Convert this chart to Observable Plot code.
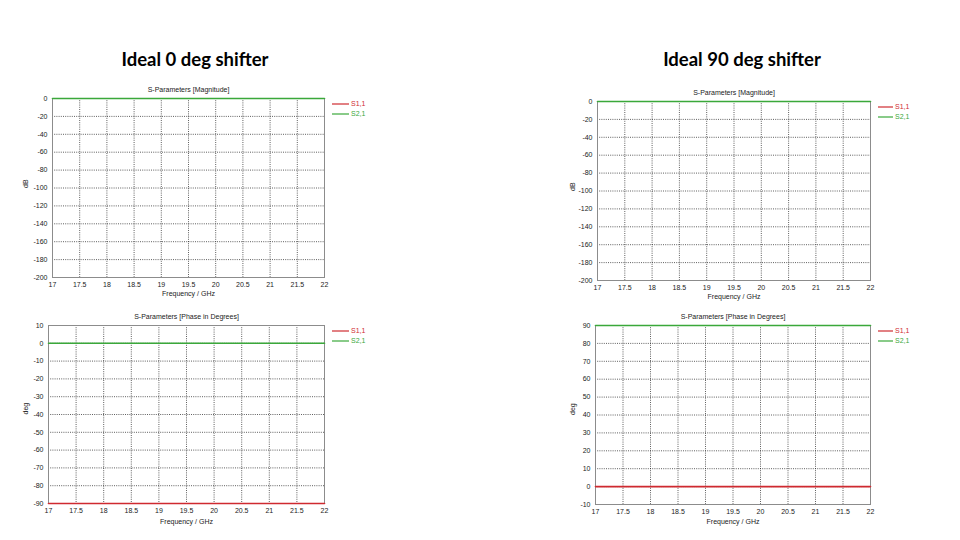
<!DOCTYPE html>
<html>
<head>
<meta charset="utf-8">
<script src="https://cdn.jsdelivr.net/npm/d3@7"></script>
<script src="https://cdn.jsdelivr.net/npm/@observablehq/plot@0.6"></script>
<style>
  html, body { margin: 0; padding: 0; background: #fff; }
  #page { position: relative; width: 960px; height: 540px; overflow: hidden; font-family: "Liberation Sans", Arial, sans-serif; }
  .main-title { position: absolute; font-family: Lato, "Open Sans", sans-serif; font-weight: bold; font-size: 18.5px; color: #000; transform: translateX(-50%); white-space: nowrap; }
  .leg { position: absolute; font-size: 7px; line-height: 8px; white-space: nowrap; display: flex; align-items: center; }
  .leg svg { margin-right: 2px; }
  #page > svg { position: absolute; left: 0; top: 0; }
</style>
</head>
<body>
<div id="page"></div>
<script>
// ---- data ----
const freqTicks = [17, 17.5, 18, 18.5, 19, 19.5, 20, 20.5, 21, 21.5, 22];
const magTicks = [0, -20, -40, -60, -80, -100, -120, -140, -160, -180, -200];
const phase0Ticks = [10, 0, -10, -20, -30, -40, -50, -60, -70, -80, -90];
const phase90Ticks = [90, 80, 70, 60, 50, 40, 30, 20, 10, 0, -10];

const freq = [17, 22];
const mag0_S21 = [0, 0];
const phase0_S11 = [-90, -90];
const phase0_S21 = [0, 0];
const mag90_S21 = [0, 0];
const phase90_S11 = [0, 0];
const phase90_S21 = [90, 90];

const seriesNames = ["S1,1", "S2,1"];
const seriesColors = ["#cf2a30", "#3aa83a"];
const mainTitles = ["Ideal 0 deg shifter", "Ideal 90 deg shifter"];

const page = document.getElementById("page");

function toRows(vals) { return freq.map((f, i) => ({f, v: vals[i]})); }
const fmt = d => String(d);

function panel(cfg) {
  const [x0, y0, x1, y1] = cfg.frame;
  const ticks = cfg.yTicks;
  const yDomain = [d3.min(ticks), d3.max(ticks)];
  const marks = [
    Plot.gridX(freqTicks.slice(1, -1), {stroke: "#222", strokeOpacity: 0.9, strokeDasharray: "1,1.2", strokeWidth: 0.8}),
    Plot.gridY(ticks.slice(1, -1), {stroke: "#222", strokeOpacity: 0.9, strokeDasharray: "1,1.2", strokeWidth: 0.8}),
    Plot.frame({stroke: "#8c8c8c", strokeWidth: 1}),
    Plot.axisX(freqTicks, {tickSize: 0, tickPadding: 5, label: null, fill: "#222", tickFormat: fmt}),
    Plot.axisY(ticks, {tickSize: 0, tickPadding: 5, label: null, fill: "#222", tickFormat: fmt}),
  ];
  cfg.series.forEach(s => {
    marks.push(Plot.line(toRows(s.vals), {x: "f", y: "v", stroke: seriesColors[s.idx], strokeWidth: 1.6}));
  });
  marks.push(
    Plot.text([cfg.title], {text: d => d, frameAnchor: "top", dy: -(y0 - cfg.titleY), fill: "#222"}),
    Plot.text(["Frequency / GHz"], {text: d => d, frameAnchor: "bottom", dy: cfg.xlabelY - y1, fill: "#222"}),
    Plot.text([cfg.ylabel], {text: d => d, frameAnchor: "left", dx: -(x0 - cfg.ylabelX), rotate: -90, fill: "#222"})
  );
  const svg = Plot.plot({
    width: 960, height: 540,
    marginLeft: x0, marginRight: 960 - x1, marginTop: y0, marginBottom: 540 - y1,
    x: {domain: [17, 22]},
    y: {domain: yDomain},
    style: {fontFamily: '"Liberation Sans", Arial, sans-serif', fontSize: "7px", background: "transparent", overflow: "visible"},
    marks
  });
  page.appendChild(svg);

  // legend
  cfg.legendY.forEach((ly, i) => {
    const d = document.createElement("div");
    d.className = "leg";
    d.style.left = cfg.legendX + "px";
    d.style.top = (ly - 4) + "px";
    d.style.color = seriesColors[i];
    d.innerHTML = `<svg width="${cfg.legendW}" height="8"><line x1="0" x2="${cfg.legendW}" y1="4" y2="4" stroke="${seriesColors[i]}" stroke-width="1.2"/></svg><span>${seriesNames[i]}</span>`;
    page.appendChild(d);
  });
}

panel({frame: [52, 98, 324, 277], yTicks: magTicks, title: "S-Parameters [Magnitude]", titleY: 87, xlabelY: 295, ylabel: "dB", ylabelX: 25,
  series: [{idx: 1, vals: mag0_S21}], legendX: 332, legendY: [104, 114], legendW: 17});
panel({frame: [48, 325, 324, 503], yTicks: phase0Ticks, title: "S-Parameters [Phase in Degrees]", titleY: 314, xlabelY: 523, ylabel: "deg", ylabelX: 25,
  series: [{idx: 0, vals: phase0_S11}, {idx: 1, vals: phase0_S21}], legendX: 332, legendY: [331, 341], legendW: 17});
panel({frame: [597, 101, 870, 280], yTicks: magTicks, title: "S-Parameters [Magnitude]", titleY: 90, xlabelY: 298, ylabel: "dB", ylabelX: 572,
  series: [{idx: 1, vals: mag90_S21}], legendX: 878, legendY: [107, 117], legendW: 15});
panel({frame: [595, 325, 870, 504], yTicks: phase90Ticks, title: "S-Parameters [Phase in Degrees]", titleY: 314, xlabelY: 523, ylabel: "deg", ylabelX: 572,
  series: [{idx: 0, vals: phase90_S11}, {idx: 1, vals: phase90_S21}], legendX: 878, legendY: [331, 341], legendW: 15});

// main titles
[[195, 48], [742, 48]].forEach(([cx, top], i) => {
  const t = document.createElement("div");
  t.className = "main-title";
  t.style.left = cx + "px";
  t.style.top = top + "px";
  t.textContent = mainTitles[i];
  page.appendChild(t);
});
</script>
</body>
</html>
